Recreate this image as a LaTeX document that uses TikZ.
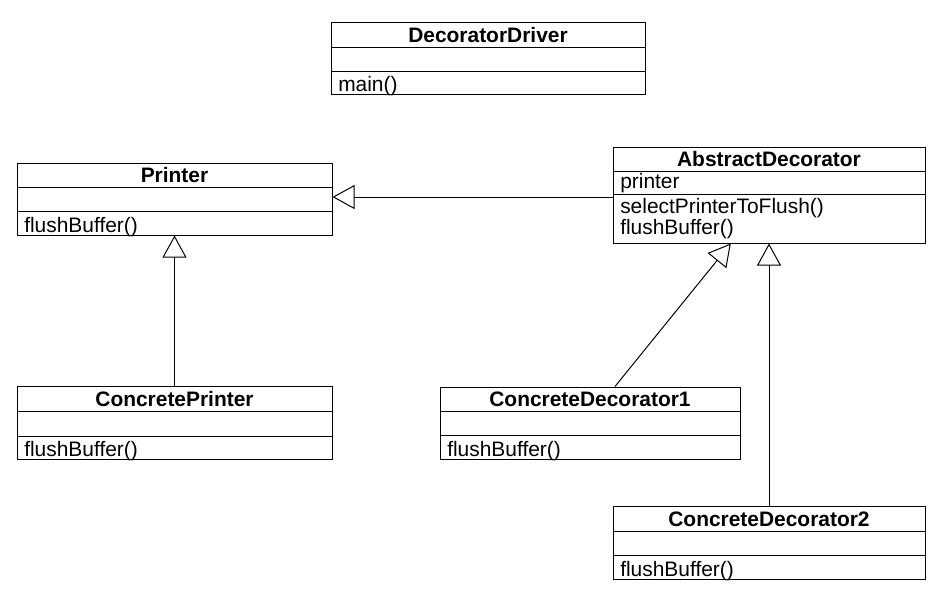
\documentclass[tikz,border=0pt]{standalone}
\usepackage{fontspec}
\setmainfont{Liberation Sans}
\usetikzlibrary{arrows.meta,fit,calc}
\tikzset{
  classbox/.style={draw, line width=0.75pt, inner sep=0pt},
  divider/.style={line width=0.75pt},
  ctitle/.style={anchor=base, inner sep=0pt, font=\fontsize{15.7pt}{18pt}\selectfont\bfseries},
  cmember/.style={anchor=base west, inner sep=0pt, font=\fontsize{15.7pt}{18pt}\selectfont},
  inherit/.style={line width=0.75pt, -{Triangle[open, length=16.5pt, width=18pt, fill=white]}},
}
\newcommand{\umlclass}[8]{%
  \coordinate (#1-nw) at (#2,#3);
  \coordinate (#1-se) at (#4,#5);
  \node[classbox, fit=(#1-nw)(#1-se)] (#1) {};
  \draw[divider] (#2,#6) -- (#4,#6);
  \draw[divider] (#2,#7) -- (#4,#7);
  \node[ctitle] (#1-title) at ({(#2+#4)/2},{#6-4.5}) {#8};
}
\begin{document}
\begin{tikzpicture}[x=0.75pt, y=-0.75pt]
\useasboundingbox (0,0) rectangle (951,590);
\fill[white] (0,0) rectangle (951,590);

\umlclass{DD}{331}{22}{645}{94}{47}{71}{DecoratorDriver}
\node[cmember] (DD-m1) at (338,91) {main()};

\umlclass{P}{17}{163}{332}{235}{187}{211}{Printer}
\node[cmember] (P-m1) at (24,232) {flushBuffer()};

\umlclass{AD}{613}{147}{925}{243}{171}{194}{AbstractDecorator}
\node[cmember] (AD-a1) at (620,188) {printer};
\node[cmember] (AD-m1) at (620,213.5) {selectPrinterToFlush()};
\node[cmember] (AD-m2) at (620,234) {flushBuffer()};

\umlclass{CP}{17}{386}{332}{459}{411}{436}{ConcretePrinter}
\node[cmember] (CP-m1) at (24,456) {flushBuffer()};

\umlclass{CDa}{440}{387}{740}{459}{411}{435}{ConcreteDecorator1}
\node[cmember] (CDa-m1) at (447,456) {flushBuffer()};

\umlclass{CDb}{613}{506}{925}{579}{531}{555}{ConcreteDecorator2}
\node[cmember] (CDb-m1) at (620,576) {flushBuffer()};

\draw[inherit] ([yshift=-1.5pt]AD.west) -- ([yshift=-1.5pt]AD.west -| P.east);
\draw[inherit] (CP.north) -- (P.south);
\draw[inherit] ($(CDa.north west)!0.583!(CDa.north east)$) -- ($(AD.south west)!0.378!(AD.south east)$);
\draw[inherit] (CDb.north) -- (CDb.north |- AD.south);
\end{tikzpicture}
\end{document}
